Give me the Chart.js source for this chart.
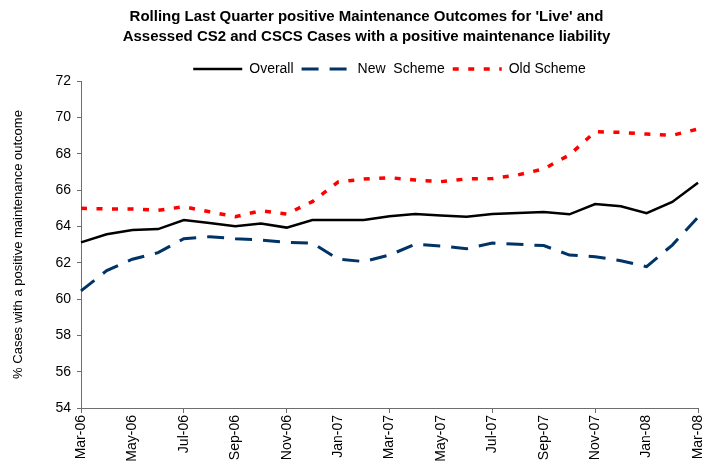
<!DOCTYPE html>
<html>
<head>
<meta charset="utf-8">
<script src="https://cdn.jsdelivr.net/npm/chart.js@4.4.0/dist/chart.umd.min.js"></script>
<style>
  html, body { margin: 0; padding: 0; background: #fff; }
  #wrap { width: 709px; height: 461px; }
</style>
</head>
<body>
<div id="wrap"><canvas id="chart" width="709" height="461"></canvas></div>
<script>
// monthly rolling quarter figures, Mar-06 .. Mar-08
const months = ['Mar-06', 'Apr-06', 'May-06', 'Jun-06', 'Jul-06', 'Aug-06', 'Sep-06', 'Oct-06', 'Nov-06', 'Dec-06',
    'Jan-07', 'Feb-07', 'Mar-07', 'Apr-07', 'May-07', 'Jun-07', 'Jul-07', 'Aug-07', 'Sep-07', 'Oct-07', 'Nov-07', 'Dec-07',
    'Jan-08', 'Feb-08', 'Mar-08'];
const overall = [63.12, 63.56, 63.8, 63.85, 64.35, 64.18, 64.0, 64.15, 63.93, 64.35, 64.35, 64.35, 64.55,
    64.68, 64.6, 64.53, 64.68, 64.73, 64.79, 64.66, 65.23, 65.1, 64.72, 65.34, 66.4];
const newScheme = [60.45, 61.56, 62.19, 62.55, 63.32, 63.43, 63.32, 63.25, 63.12, 63.08, 62.2, 62.06, 62.42,
    63.01, 62.92, 62.77, 63.08, 63.01, 62.94, 62.42, 62.33, 62.11, 61.78, 62.97, 64.5];
const oldScheme = [64.99, 64.96, 64.96, 64.88, 65.08, 64.8, 64.53, 64.86, 64.68, 65.36, 66.44, 66.6, 66.68,
    66.55, 66.46, 66.61, 66.63, 66.83, 67.16, 67.93, 69.21, 69.17, 69.08, 69.01, 69.36];
const yMin = 54;
const yMax = 72;
const yStep = 2;

const FONT = "'Liberation Sans', Arial, sans-serif";
const axisColor = '#6e6e6e';

const ctx = document.getElementById('chart').getContext('2d');

// default legend items lose the dash pattern when point styles are used
function legendItems(chart) {
    return Chart.defaults.plugins.legend.labels.generateLabels(chart).map(item => {
        const ds = chart.data.datasets[item.datasetIndex];
        item.lineDash = ds.borderDash || [];
        item.lineWidth = ds.borderWidth;
        item.strokeStyle = ds.borderColor;
        item.pointStyle = 'line';
        return item;
    });
}

new Chart(ctx, {
    type: 'line',
    data: {
        labels: months,
        datasets: [
            {
                label: 'Overall',
                data: overall,
                borderColor: '#000000',
                borderWidth: 2.5,
                pointRadius: 0,
                tension: 0
            },
            {
                label: 'New  Scheme',
                data: newScheme,
                borderColor: '#003366',
                borderWidth: 3,
                borderDash: [17, 11],
                pointRadius: 0,
                tension: 0
            },
            {
                label: 'Old Scheme',
                data: oldScheme,
                borderColor: '#ff0000',
                borderWidth: 3.5,
                borderDash: [6, 9.5],
                pointRadius: 0,
                tension: 0
            }
        ]
    },
    options: {
        responsive: false,
        animation: false,
        layout: {
            padding: { left: 35, right: 11, top: 0, bottom: 0 }
        },
        plugins: {
            title: {
                display: true,
                text: ["Rolling Last Quarter positive Maintenance Outcomes for 'Live' and",
                    'Assessed CS2 and CSCS Cases with a positive maintenance liability'],
                color: '#000000',
                font: { family: FONT, size: 15, weight: 'bold', lineHeight: 1.3 },
                padding: { top: 7.25, bottom: 7.75 }
            },
            legend: {
                display: true,
                fullSize: false,
                maxHeight: 27,
                labels: {
                    color: '#000000',
                    font: { family: FONT, size: 14 },
                    usePointStyle: true,
                    pointStyle: 'line',
                    pointStyleWidth: 49,
                    padding: 8,
                    generateLabels: legendItems
                }
            },
            tooltip: { enabled: false }
        },
        scales: {
            x: {
                offset: false,
                grid: {
                    drawOnChartArea: false,
                    tickLength: 5,
                    tickColor: c => (c.index % 2 === 0 ? axisColor : 'rgba(0,0,0,0)')
                },
                border: { color: axisColor, width: 1 },
                ticks: {
                    autoSkip: false,
                    maxRotation: 90,
                    minRotation: 90,
                    padding: 2,
                    color: '#000000',
                    font: { family: FONT, size: 14 },
                    callback: function (value, index) {
                        return index % 2 === 0 ? this.getLabelForValue(value) : null;
                    }
                },
                afterFit: scale => {
                    scale.paddingRight = 0;
                    scale.height = 53;
                }
            },
            y: {
                min: yMin,
                max: yMax,
                grid: {
                    drawOnChartArea: false,
                    tickLength: 4,
                    tickColor: axisColor
                },
                border: { color: axisColor, width: 1 },
                ticks: {
                    stepSize: yStep,
                    padding: 6,
                    color: '#000000',
                    font: { family: FONT, size: 14 }
                },
                title: {
                    display: true,
                    text: '% Cases with a positive maintenance outcome',
                    color: '#000000',
                    font: { family: FONT, size: 13 },
                    padding: { top: -24.3, bottom: 0 }
                },
                afterFit: scale => { scale.width = 46; }
            }
        }
    }
});
</script>
</body>
</html>
